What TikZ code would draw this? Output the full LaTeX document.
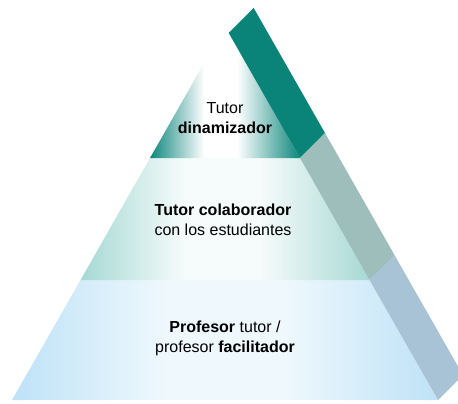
\documentclass[tikz,border=0pt]{standalone}
\usepackage{fontspec}
\setmainfont{Liberation Sans}
\usepackage{tikz}
\definecolor{bandtop}{HTML}{0A8478}
\definecolor{bandmid}{HTML}{9EBEBB}
\definecolor{bandlow}{HTML}{A8C3D6}
\definecolor{edgetop}{HTML}{0E877D}
\definecolor{edgemid}{HTML}{A6D9D4}
\definecolor{edgelow}{HTML}{BEE2F7}
\definecolor{centermid}{HTML}{F6FBFB}
\definecolor{centerlow}{HTML}{EEF8FD}
\pgfdeclarehorizontalshading{tiertop}{100bp}{color(0bp)=(edgetop); color(25bp)=(edgetop); color(43bp)=(white); color(54bp)=(white); color(75bp)=(edgetop); color(100bp)=(edgetop)}
\pgfdeclarehorizontalshading{tiermid}{100bp}{color(0bp)=(edgemid); color(25bp)=(edgemid); color(43bp)=(centermid); color(56bp)=(centermid); color(75bp)=(edgemid); color(100bp)=(edgemid)}
\pgfdeclarehorizontalshading{tierlow}{100bp}{color(0bp)=(edgelow); color(25bp)=(edgelow); color(43bp)=(centerlow); color(57bp)=(centerlow); color(75bp)=(edgelow); color(100bp)=(edgelow)}

\begin{document}
\begin{tikzpicture}[x=1pt,y=-1pt]
					\tikzstyle{tiertext}=[align=center,font=\fontsize{16}{20}\selectfont,inner sep=0pt,anchor=base]
					\useasboundingbox (0,0) rectangle (458,404);
					\shade[shading=tierlow] (12,400) -- (80.5,280) -- (369.5,280) -- (438,400) -- cycle;
					\shade[shading=tiermid] (80.5,280) -- (150,158) -- (300,158) -- (369.5,280) -- cycle;
					\shade[shading=tiertop] (150,158) -- (207,58) -- (243,58) -- (300,158) -- cycle;
					\fill[bandtop] (228.7,33) -- (253.7,8) -- (325,133) -- (300,158) -- cycle;
					\fill[bandmid] (300,158) -- (325,133) -- (394.5,255) -- (369.5,280) -- cycle;
					\fill[bandlow] (369.5,280) -- (394.5,255) -- (458,366.4) -- (458,380) -- (438,400) -- cycle;
					\node[tiertext] (1) at (225,133) {Tutor\\\textbf{dinamizador}};
					\node[tiertext] (2) at (223,235) {\textbf{Tutor colaborador}\\con los estudiantes};
					\node[tiertext] (3) at (225,352) {\textbf{Profesor} tutor /\\profesor \textbf{facilitador}};
					\end{tikzpicture}
\end{document}
